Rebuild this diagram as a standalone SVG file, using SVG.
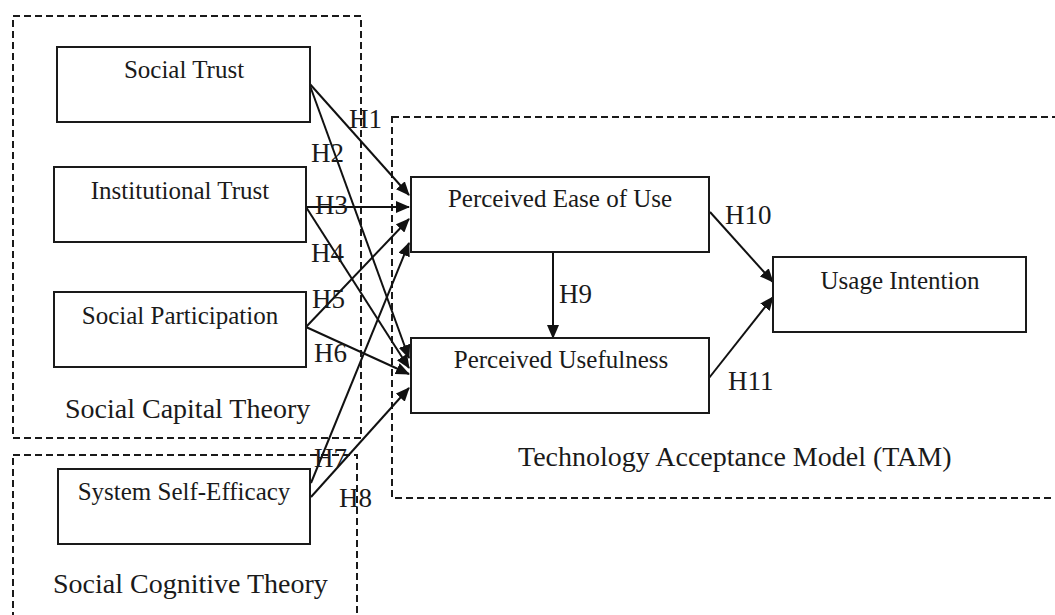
<svg xmlns="http://www.w3.org/2000/svg" width="1055" height="615" viewBox="0 0 1055 615">
  <style>
    .frame { fill: none; stroke: #1a1a1a; stroke-width: 2; stroke-dasharray: 7 4; }
    .box { fill: #ffffff; stroke: #1a1a1a; stroke-width: 2; }
    .node-text { font-family: "Liberation Serif", "Times New Roman", serif; font-size: 25px; fill: #1a1a1a; text-anchor: middle; }
    .frame-text { font-family: "Liberation Serif", "Times New Roman", serif; font-size: 28px; fill: #1a1a1a; }
    .hyp { font-family: "Liberation Serif", "Times New Roman", serif; font-size: 27px; fill: #1a1a1a; }
    .link { fill: none; stroke: #111111; stroke-width: 2; marker-end: url(#arrow); }
  </style>
  <defs>
    <marker id="arrow" markerUnits="userSpaceOnUse" markerWidth="14" markerHeight="12" viewBox="0 0 14 12" refX="13" refY="6" orient="auto">
      <path d="M0,0 L14,6 L0,12 Z" fill="#111111"/>
    </marker>
  </defs>
  <rect width="1055" height="615" fill="#ffffff"/>

  <!-- theory frames -->
  <g id="frame-social-capital">
    <rect class="frame" x="13" y="16" width="348" height="422"/>
    <text class="frame-text" x="65" y="418">Social Capital Theory</text>
  </g>
  <g id="frame-social-cognitive">
    <rect class="frame" x="13" y="455" width="344" height="200"/>
    <text class="frame-text" x="53" y="593">Social Cognitive Theory</text>
  </g>
  <g id="frame-tam">
    <rect class="frame" x="392" y="117" width="700" height="381"/>
    <text class="frame-text" x="518" y="466">Technology Acceptance Model (TAM)</text>
  </g>

  <!-- connectors -->
  <g id="connectors">
    <line class="link" x1="309" y1="83" x2="409" y2="195"/>
    <line class="link" x1="309" y1="83" x2="409" y2="358"/>
    <line class="link" x1="306" y1="207" x2="409" y2="207"/>
    <line class="link" x1="306" y1="207" x2="409" y2="368"/>
    <line class="link" x1="306" y1="327" x2="409" y2="219"/>
    <line class="link" x1="306" y1="327" x2="409" y2="374"/>
    <line class="link" x1="311" y1="483" x2="409" y2="243"/>
    <line class="link" x1="311" y1="497" x2="409" y2="388"/>
    <line class="link" x1="553" y1="252" x2="553" y2="338"/>
    <line class="link" x1="710" y1="212" x2="773" y2="282"/>
    <line class="link" x1="709" y1="378" x2="773" y2="297"/>
    <text class="hyp" x="349" y="128">H1</text>
    <text class="hyp" x="311" y="162">H2</text>
    <text class="hyp" x="315" y="214">H3</text>
    <text class="hyp" x="311" y="262">H4</text>
    <text class="hyp" x="312" y="308">H5</text>
    <text class="hyp" x="314" y="362">H6</text>
    <text class="hyp" x="314" y="467">H7</text>
    <text class="hyp" x="339" y="507">H8</text>
    <text class="hyp" x="559" y="303">H9</text>
    <text class="hyp" x="725" y="224">H10</text>
    <text class="hyp" x="728" y="390">H11</text>
  </g>

  <!-- constructs -->
  <g id="social-trust">
    <rect class="box" x="57" y="47" width="253" height="75"/>
    <text class="node-text" x="184" y="78">Social Trust</text>
  </g>
  <g id="institutional-trust">
    <rect class="box" x="54" y="167" width="252" height="75"/>
    <text class="node-text" x="180" y="199">Institutional Trust</text>
  </g>
  <g id="social-participation">
    <rect class="box" x="54" y="292" width="252" height="75"/>
    <text class="node-text" x="180" y="324">Social Participation</text>
  </g>
  <g id="system-self-efficacy">
    <rect class="box" x="58" y="469" width="252" height="75"/>
    <text class="node-text" x="184" y="500">System Self-Efficacy</text>
  </g>
  <g id="perceived-ease-of-use">
    <rect class="box" x="411" y="177" width="298" height="75"/>
    <text class="node-text" x="560" y="207">Perceived Ease of Use</text>
  </g>
  <g id="perceived-usefulness">
    <rect class="box" x="411" y="338" width="298" height="75"/>
    <text class="node-text" x="561" y="368">Perceived Usefulness</text>
  </g>
  <g id="usage-intention">
    <rect class="box" x="773" y="257" width="253" height="75"/>
    <text class="node-text" x="900" y="289">Usage Intention</text>
  </g>
</svg>
